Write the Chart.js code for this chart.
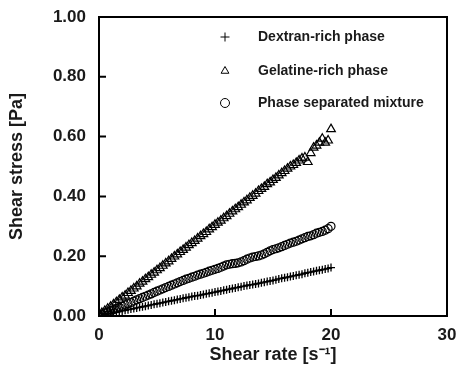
<!DOCTYPE html>
<html><head><meta charset="utf-8">
<script src="https://cdn.jsdelivr.net/npm/chart.js@4"></script>
<style>html,body{margin:0;padding:0;background:#fff;}canvas{display:block;}</style>
</head><body>
<canvas id="c" width="458" height="366"></canvas>
<script>
const shearRate = [0,0.25,0.5,0.75,1,1.25,1.5,1.75,2,2.25,2.5,2.75,3,3.25,3.5,3.75,4,4.25,4.5,4.75,5,5.25,5.5,5.75,6,6.25,6.5,6.75,7,7.25,7.5,7.75,8,8.25,8.5,8.75,9,9.25,9.5,9.75,10,10.25,10.5,10.75,11,11.25,11.5,11.75,12,12.25,12.5,12.75,13,13.25,13.5,13.75,14,14.25,14.5,14.75,15,15.25,15.5,15.75,16,16.25,16.5,16.75,17,17.25,17.5,17.75,18,18.25,18.5,18.75,19,19.25,19.5,19.75,20];
const dextran = [0.001,0.003,0.005,0.007,0.009,0.011,0.012,0.015,0.017,0.019,0.021,0.023,0.025,0.027,0.029,0.031,0.033,0.035,0.037,0.039,0.041,0.043,0.045,0.047,0.049,0.051,0.053,0.055,0.057,0.059,0.061,0.063,0.065,0.067,0.068,0.070,0.072,0.074,0.076,0.078,0.080,0.082,0.084,0.086,0.088,0.090,0.092,0.094,0.096,0.098,0.100,0.102,0.104,0.105,0.107,0.109,0.111,0.113,0.115,0.117,0.119,0.121,0.124,0.126,0.128,0.130,0.132,0.134,0.136,0.138,0.140,0.143,0.145,0.147,0.149,0.151,0.153,0.155,0.157,0.159,0.162];
const gelatine = [0.005,0.010,0.017,0.024,0.031,0.039,0.046,0.054,0.062,0.068,0.077,0.084,0.092,0.099,0.108,0.115,0.123,0.130,0.138,0.145,0.153,0.160,0.168,0.176,0.183,0.191,0.199,0.206,0.214,0.221,0.229,0.237,0.244,0.251,0.259,0.267,0.274,0.281,0.290,0.297,0.305,0.312,0.319,0.327,0.334,0.342,0.350,0.357,0.364,0.372,0.380,0.387,0.395,0.402,0.409,0.418,0.425,0.432,0.441,0.447,0.455,0.462,0.470,0.478,0.485,0.493,0.500,0.505,0.512,0.520,0.527,0.530,0.515,0.545,0.563,0.570,0.580,0.593,0.580,0.587,0.625];
const mixture = [0.003,0.006,0.010,0.013,0.017,0.021,0.025,0.029,0.033,0.037,0.041,0.045,0.050,0.054,0.058,0.062,0.066,0.070,0.074,0.079,0.083,0.087,0.091,0.095,0.099,0.103,0.107,0.111,0.115,0.119,0.123,0.126,0.130,0.133,0.137,0.140,0.143,0.146,0.150,0.153,0.156,0.159,0.163,0.167,0.171,0.173,0.175,0.176,0.178,0.181,0.185,0.190,0.194,0.197,0.199,0.201,0.204,0.208,0.213,0.218,0.222,0.225,0.228,0.232,0.236,0.240,0.244,0.247,0.250,0.254,0.258,0.262,0.266,0.268,0.272,0.277,0.280,0.283,0.287,0.292,0.300];
const seriesNames = ['Dextran-rich phase','Gelatine-rich phase','Phase separated mixture'];
const xTicks = [0,10,20,30];
const yTicks = [0,0.2,0.4,0.6,0.8,1.0];

const pts = arr => arr.map((v,i)=>({x:shearRate[i], y:v}));
const FONT = '"Liberation Sans", Arial, sans-serif';

const boxPlugin = {
  id:'box',
  afterDraw(chart){
    const {ctx, chartArea:a, scales} = chart;
    ctx.save();
    ctx.strokeStyle='#000';
    ctx.lineWidth=2;
    ctx.strokeRect(a.left, a.top, a.right-a.left, a.bottom-a.top);
    ctx.beginPath();
    yTicks.forEach(v=>{const p=scales.y.getPixelForValue(v); ctx.moveTo(a.left,p); ctx.lineTo(a.left+7,p);});
    xTicks.forEach(v=>{const p=scales.x.getPixelForValue(v); ctx.moveTo(p,a.bottom); ctx.lineTo(p,a.bottom-7);});
    ctx.stroke();
    // legend
    const styles=['cross','triangle','circle'];
    const rows=[37,71,103];
    const mx=225, tx=258;
    ctx.textBaseline='middle';
    chart.data.datasets.forEach((ds,i)=>{
      const y=rows[i];
      ctx.lineWidth=1;
      ctx.strokeStyle='#000';
      ctx.fillStyle='rgba(0,0,0,0)';
      if (Chart.helpers && Chart.helpers.drawPoint){
        Chart.helpers.drawPoint(ctx,{pointStyle:styles[i],radius:4.5,borderWidth:1,rotation:0},mx,y);
      }
      ctx.font='bold 14px '+FONT;
      ctx.fillStyle='#1a1a1a';
      ctx.fillText(ds.label, tx, y);
    });
    ctx.restore();
  }
};

new Chart(document.getElementById('c'),{
  type:'scatter',
  data:{datasets:[
    {label:seriesNames[0],data:pts(dextran),pointStyle:'cross',pointRadius:4,borderColor:'#000',backgroundColor:'rgba(0,0,0,0)',borderWidth:1.3},
    {label:seriesNames[1],data:pts(gelatine),pointStyle:'triangle',pointRadius:5,borderColor:'#000',backgroundColor:'rgba(0,0,0,0)',borderWidth:1.2},
    {label:seriesNames[2],data:pts(mixture),pointStyle:'circle',pointRadius:4,borderColor:'#000',backgroundColor:'rgba(0,0,0,0)',borderWidth:1.2}
  ]},
  options:{
    responsive:false, animation:false,
    layout:{padding:{top:17,right:11,left:0,bottom:0}},
    plugins:{legend:{display:false},tooltip:{enabled:false}},
    elements:{point:{hoverRadius:4}},
    scales:{
      x:{type:'linear',min:0,max:30,
        afterBuildTicks(s){s.ticks=xTicks.map(v=>({value:v}));},
        afterFit(s){s.height=50;s.paddingLeft=0;s.paddingRight=0;},
        grid:{display:false,drawTicks:false},
        border:{display:false},
        ticks:{padding:9,color:'#1a1a1a',font:{family:FONT,size:17,weight:'bold'},callback:v=>String(v),maxRotation:0},
        title:{display:true,text:'Shear rate [s\u207B\u00B9]',color:'#1a1a1a',font:{family:FONT,size:18,weight:'bold'},padding:{top:0,bottom:0}}
      },
      y:{type:'linear',min:0,max:1,
        afterBuildTicks(s){s.ticks=yTicks.map(v=>({value:v}));},
        afterFit(s){s.width=99;s.paddingTop=0;s.paddingBottom=0;},
        grid:{display:false,drawTicks:false},
        border:{display:false},
        ticks:{padding:13,color:'#1a1a1a',font:{family:FONT,size:17,weight:'bold'},callback:v=>Number(v).toFixed(2)},
        title:{display:true,text:'Shear stress [Pa]',color:'#1a1a1a',font:{family:FONT,size:18,weight:'bold'},padding:{top:6,bottom:0}}
      }
    }
  },
  plugins:[boxPlugin]
});
</script>
</body></html>
